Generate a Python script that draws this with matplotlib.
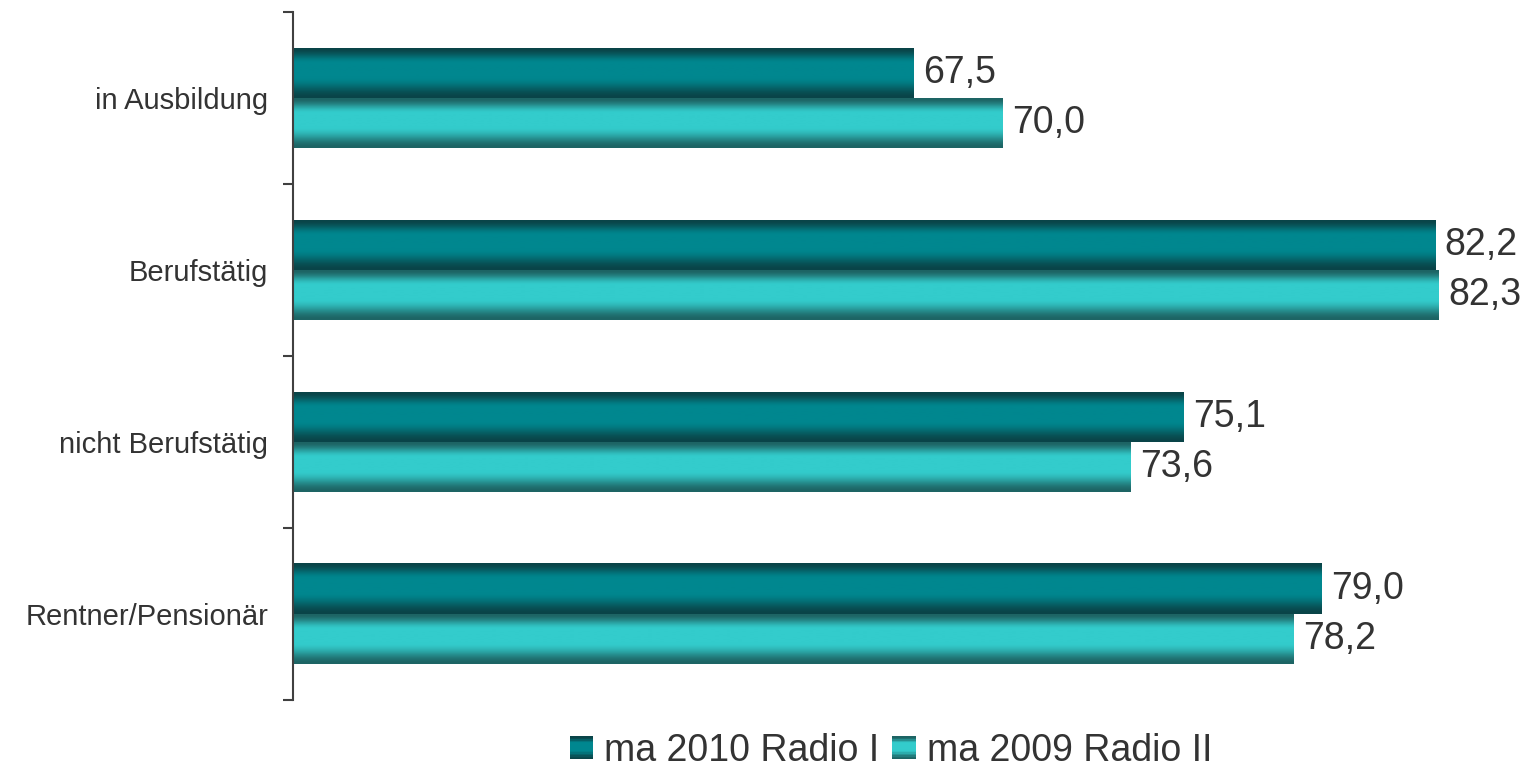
import matplotlib.pyplot as plt
import numpy as np
from matplotlib.legend_handler import HandlerBase
from matplotlib.patches import Rectangle, Patch
from matplotlib.colors import to_rgb

plt.rcParams['font.family'] = ['Liberation Sans', 'DejaVu Sans']

# data
categories = ['in Ausbildung', 'Berufstätig', 'nicht Berufstätig', 'Rentner/Pensionär']
radio_2010 = [67.5, 82.2, 75.1, 79.0]
radio_2009 = [70.0, 82.3, 73.6, 78.2]
series_names = ['ma 2010 Radio I', 'ma 2009 Radio II']

# (edge colour, middle colour) of the cylinder-like shading
shades = [('#0a4448', '#00878f'), ('#1d6464', '#33cccc')]
text_color = '#333333'
axis_color = '#404040'


def profile(n=64):
    t = np.linspace(0, 1, n)
    up = np.clip(t / 0.3, 0, 1)
    down = np.clip((1 - t) / 0.42, 0, 1)
    f = np.minimum(up, down)
    return f * f * (3 - 2 * f)


def gradient_img(edge, mid, n=64):
    e = np.array(to_rgb(edge))
    m = np.array(to_rgb(mid))
    f = profile(n)[:, None]
    img = e + (m - e) * f
    return img[:, None, :]


class GradientHandler(HandlerBase):
    def __init__(self, edge, mid):
        super().__init__()
        self.edge, self.mid = edge, mid

    def create_artists(self, legend, orig_handle, xdescent, ydescent,
                       width, height, fontsize, trans):
        side = min(width, height)
        x0 = -xdescent + (width - side) / 2
        y0 = -ydescent + (height - side) / 2
        img = gradient_img(self.edge, self.mid, 16)[::-1, 0, :]
        n = len(img)
        arts = []
        for i, c in enumerate(img):
            r = Rectangle((x0, y0 + side * i / n), side, side / n + 0.3,
                          facecolor=c, edgecolor='none', transform=trans)
            arts.append(r)
        return arts


fig = plt.figure(figsize=(15.24, 7.66), dpi=100)
ax = fig.add_axes([293 / 1524, 66 / 766, 1 - 293 / 1524, 688 / 766])

y = np.arange(len(categories))
h = 50 / 172
x_min = 50
bars_a = ax.barh(y - h / 2, np.array(radio_2010) - x_min, height=h, left=x_min,
                 facecolor='none', edgecolor='none')
bars_b = ax.barh(y + h / 2, np.array(radio_2009) - x_min, height=h, left=x_min,
                 facecolor='none', edgecolor='none')

for bars, (edge, mid), vals in zip([bars_a, bars_b], shades, [radio_2010, radio_2009]):
    img = gradient_img(edge, mid)
    for p, v in zip(bars.patches, vals):
        x, yb, w, hh = p.get_x(), p.get_y(), p.get_width(), p.get_height()
        ax.imshow(img, extent=[x, x + w, yb + hh, yb], aspect='auto',
                  interpolation='bilinear', zorder=2)
        ax.annotate(f'{v:.1f}'.replace('.', ','), (x + w, yb + hh / 2),
                    xytext=(7, 0), textcoords='offset points',
                    va='center', ha='left', fontsize=27, color=text_color)

ax.set_xlim(x_min, x_min + (1524 - 293) / 35.47)
ax.set_ylim(len(categories) - 0.5, -0.5)

for s in ['top', 'right', 'bottom']:
    ax.spines[s].set_visible(False)
ax.spines['left'].set_color(axis_color)
ax.spines['left'].set_linewidth(1.5)
ax.set_xticks([])

ax.set_yticks(np.arange(len(categories) + 1) - 0.5)
ax.set_yticklabels([])
ax.set_yticks(y, minor=True)
ax.set_yticklabels(categories, minor=True, fontsize=21, color=text_color)
ax.tick_params(axis='y', which='major', length=7, width=1.5, color=axis_color)
ax.tick_params(axis='y', which='minor', length=0, pad=18)

handles = [Patch(), Patch()]
fig.legend(handles, series_names, loc='center', bbox_to_anchor=(891 / 1524, 15 / 766),
           ncol=2, frameon=False, fontsize=27, labelcolor=text_color,
           handlelength=0.62, handleheight=0.62, handletextpad=0.3, columnspacing=0.35,
           handler_map={handles[0]: GradientHandler(*shades[0]),
                        handles[1]: GradientHandler(*shades[1])})

fig.savefig('out.png', dpi=100)
